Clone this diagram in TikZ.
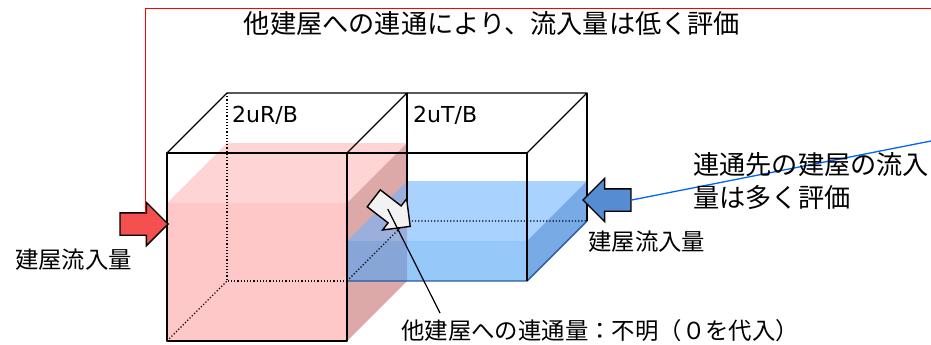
\documentclass[tikz,border=0pt]{standalone}
\usepackage{fontspec}
\setmainfont{Noto Sans CJK JP}
\newfontfamily\latfont{DejaVu Sans}
\usepackage{tikz}
\usetikzlibrary{shapes.arrows}

\definecolor{pinkfront}{RGB}{255,200,200}
\definecolor{pinktop}{RGB}{255,212,212}
\definecolor{pinkside}{RGB}{220,168,168}
\definecolor{waterfront}{RGB}{80,163,247}
\definecolor{watertop}{RGB}{113,180,255}
\definecolor{waterside}{RGB}{30,113,213}
\definecolor{wateredge}{RGB}{40,90,160}
\definecolor{redflow}{RGB}{245,80,80}
\definecolor{blueflow}{RGB}{85,140,210}
\definecolor{grayflow}{RGB}{242,242,242}
\definecolor{bluenote}{RGB}{0,100,255}

\begin{document}
\begin{tikzpicture}[x=1pt,y=-1pt,
  edge/.style={line width=1.4pt,line join=round},
  hidden/.style={line width=1.2pt,dotted},
  flow/.style={single arrow,draw=black,line width=1.4pt,inner xsep=0pt,inner ysep=10.5pt,
    minimum height=48pt,single arrow head extend=10.5pt,line join=miter},
  lbl/.style={inner sep=0pt,font=\fontsize{23.4}{28}\selectfont},
  biglbl/.style={inner sep=0pt,font=\fontsize{26.2}{33}\selectfont},
  boxlbl/.style={inner sep=0pt,anchor=base west,font=\latfont\fontsize{22}{26}\selectfont}]
	\useasboundingbox (0,0) rectangle (931,345);
	% water in 2uR/B
	\fill[pinkfront] (167,203) rectangle (347,341);
	\fill[pinktop] (167,203) -- (347,203) -- (407,143) -- (227,143) -- cycle;
	\fill[pinkside] (347,203) -- (407,143) -- (407,281) -- (347,341) -- cycle;
	% water in 2uT/B
	\fill[waterfront,fill opacity=0.6] (347,241) rectangle (527,281);
	\fill[watertop,fill opacity=0.6] (347,241) -- (527,241) -- (587,181) -- (407,181) -- cycle;
	\fill[waterside,fill opacity=0.6] (527,241) -- (587,181) -- (587,221) -- (527,281) -- cycle;
	% hidden edges
	\draw[hidden] (227,93) -- (227,281) -- (347,281);
	\draw[hidden] (167,341) -- (227,281);
	\draw[hidden] (347,281) -- (407,221) -- (587,221);
	\draw[wateredge,line width=1.4pt] (347,281) -- (527,281) -- (587,221);
	% 2uR/B
	\draw[edge] (167,153) rectangle (347,341);
	\draw[edge] (167,153) -- (227,93) -- (407,93) -- (347,153);
	\draw[edge] (407,93) -- (407,221);
	% 2uT/B
	\draw[edge] (347,153) -- (527,153) -- (527,281);
	\draw[edge] (407,93) -- (587,93) -- (527,153);
	\draw[edge] (587,93) -- (587,221);
	\node[boxlbl] (rb) at (232,122) {2uR/B};
	\node[boxlbl] (tb) at (413,122) {2uT/B};
	% flows
	\node[flow,fill=redflow,anchor=tip] (rarrow) at (169,224) {};
	\node[flow,fill=blueflow,anchor=tip,rotate=180] (barrow) at (582,200) {};
	\node[flow,fill=grayflow,anchor=tip,rotate=-37.6,minimum height=46pt,inner ysep=10pt,single arrow head extend=9pt] (warrow) at (411,227) {};
	% notes
	\coordinate (redend) at (931,9);
	\coordinate (blueend) at (931,141);
	\coordinate (notept) at (440,313);
	\draw[red,line width=1pt] ([xshift=-24pt,yshift=11pt]rarrow.tip) |- (redend);
	\draw[bluenote,line width=1.3pt] (barrow.tail) -- (blueend);
	\draw[line width=1.2pt] (warrow.center) -- (notept);
	\node[biglbl] (title) at (492,24) {他建屋への連通により、流入量は低く評価};
	\node[biglbl,anchor=west,align=left] (more) at (693,181) {連通先の建屋の流入\\量は多く評価};
	\node[lbl,anchor=west] (lflow) at (15,260) {建屋流入量};
	\node[lbl,anchor=west] (rflow) at (588,242) {建屋流入量};
	\node[lbl,anchor=west] (note) at (401,331) {他建屋への連通量：不明（０を代入）};
\end{tikzpicture}
\end{document}
